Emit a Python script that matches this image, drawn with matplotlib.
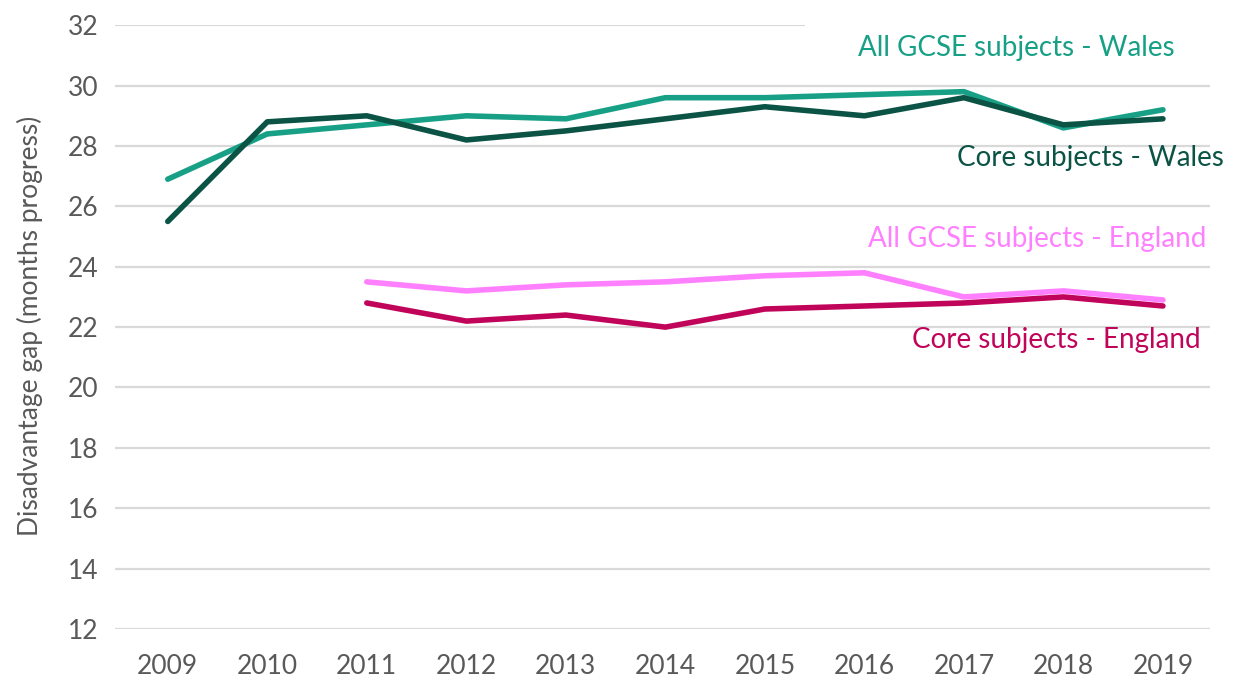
import matplotlib.pyplot as plt
from matplotlib.patches import Rectangle

# Data
years = [2009, 2010, 2011, 2012, 2013, 2014, 2015, 2016, 2017, 2018, 2019]
all_wales = [26.9, 28.4, 28.7, 29.0, 28.9, 29.6, 29.6, 29.7, 29.8, 28.6, 29.2]
core_wales = [25.5, 28.8, 29.0, 28.2, 28.5, 28.9, 29.3, 29.0, 29.6, 28.7, 28.9]
eng_years = [2011, 2012, 2013, 2014, 2015, 2016, 2017, 2018, 2019]
all_england = [23.5, 23.2, 23.4, 23.5, 23.7, 23.8, 23.0, 23.2, 22.9]
core_england = [22.8, 22.2, 22.4, 22.0, 22.6, 22.7, 22.8, 23.0, 22.7]

yticks = list(range(12, 33, 2))

c_all_w = "#17A085"
c_core_w = "#0B5445"
c_all_e = "#FF80FF"
c_core_e = "#C0045A"
grey = "#595959"

plt.rcParams["font.family"] = ["Lato", "DejaVu Sans"]

fig = plt.figure(figsize=(12.42, 6.82), dpi=100)
ax = fig.add_axes([0.0926, 0.0777, 0.8814, 0.8853])

ax.plot(years, all_wales, color=c_all_w, lw=4, solid_capstyle="round", zorder=3)
ax.plot(years, core_wales, color=c_core_w, lw=4, solid_capstyle="round", zorder=4)
ax.plot(eng_years, all_england, color=c_all_e, lw=4, solid_capstyle="round", zorder=3)
ax.plot(eng_years, core_england, color=c_core_e, lw=4, solid_capstyle="round", zorder=4)

ax.set_xlim(2008.47, 2019.47)
ax.set_ylim(12, 32)
ax.set_xticks(years)
ax.set_yticks(yticks)
ax.tick_params(axis="both", length=0, labelsize=19, colors=grey)
ax.tick_params(axis="x", pad=18)
ax.tick_params(axis="y", pad=12)
ax.grid(axis="y", color="#D9D9D9", lw=1.6)
ax.set_axisbelow(True)
for s in ax.spines.values():
    s.set_visible(False)

fig.text(0.024, 0.522, "Disadvantage gap (months progress)", fontsize=19,
         color=grey, rotation=90, ha="center", va="center")

# white box behind the top label (hides part of the top gridline)
ax.add_patch(Rectangle((0.63, 0.96), 0.5, 0.1, transform=ax.transAxes,
                       facecolor="white", edgecolor="none", clip_on=False, zorder=1.8))

ax.text(2017.53, 31.24, "All GCSE subjects - Wales", color=c_all_w, fontsize=20,
        ha="center", va="center", zorder=5)
ax.text(2018.27, 27.6, "Core subjects - Wales", color=c_core_w, fontsize=20,
        ha="center", va="center", zorder=5)
ax.text(2017.74, 24.91, "All GCSE subjects - England", color=c_all_e, fontsize=20,
        ha="center", va="center", zorder=5)
ax.text(2017.93, 21.57, "Core subjects - England", color=c_core_e, fontsize=20,
        ha="center", va="center", zorder=5)

plt.savefig("out.png", dpi=100)
